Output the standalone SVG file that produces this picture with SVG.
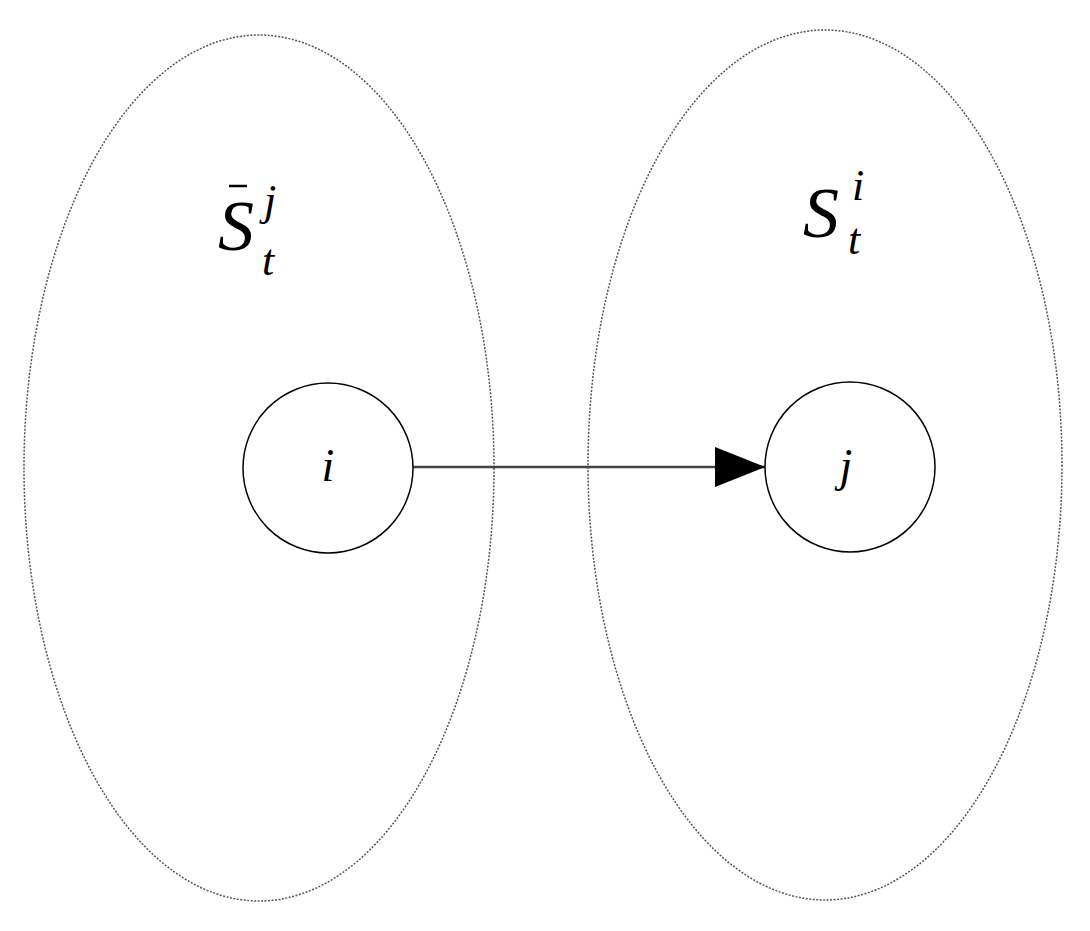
<svg xmlns="http://www.w3.org/2000/svg" width="1090" height="931" viewBox="0 0 1090 931">
<style>
.set{fill:none;stroke:#555;stroke-width:1.5;stroke-dasharray:2 1.5}
.node{fill:#fff;stroke:#000;stroke-width:1.5}
.m{font-family:"Liberation Serif",serif;font-style:italic;fill:#000}
</style>
<defs><marker id="ah" markerWidth="50" markerHeight="40" refX="50" refY="20" orient="auto" markerUnits="userSpaceOnUse"><path d="M0,0 L50,20 L0,40 Z" fill="#000"/></marker></defs>
<rect width="1090" height="931" fill="#fff"/>
<g id="setL"><ellipse class="set" cx="259" cy="468" rx="235" ry="433"/>
<text class="m" x="218" y="250" font-size="72">S</text><text class="m" x="264" y="215" font-size="44">j</text><text class="m" x="262" y="275" font-size="44">t</text>
<line x1="229" y1="186" x2="247" y2="186" stroke="#000" stroke-width="2.5"/></g>
<g id="setR"><ellipse class="set" cx="825" cy="465" rx="237" ry="435"/>
<text class="m" x="803" y="237" font-size="72">S</text><text class="m" x="852" y="200" font-size="44">i</text><text class="m" x="848" y="254" font-size="44">t</text></g>
<g id="edges"><line x1="413" y1="467" x2="765" y2="467" stroke="#444" stroke-width="2.5" marker-end="url(#ah)"/></g>
<g id="i"><circle class="node" cx="328" cy="468" r="85"/><text class="m" x="328" y="481" font-size="46" text-anchor="middle">i</text></g>
<g id="j"><circle class="node" cx="850" cy="467" r="85"/><text class="m" x="846" y="481" font-size="46" text-anchor="middle">j</text></g>
</svg>
